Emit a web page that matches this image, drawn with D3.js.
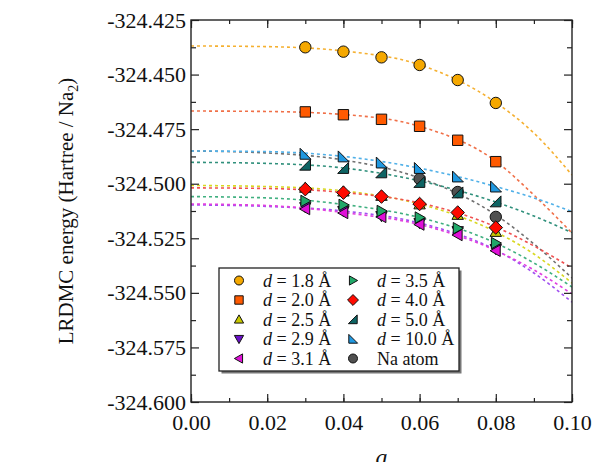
<!DOCTYPE html>
<html>
<head>
<meta charset="utf-8">
<script src="https://cdn.jsdelivr.net/npm/d3@7"></script>
<style>
  body { margin: 0; background: white; }
  svg text { font-family: "Liberation Serif", "Times New Roman", Times, serif !important; }
</style>
</head>
<body>
<svg id="chart"></svg>
<script>
// lattice spacings where LRDMC was run
const aValues = [0.03, 0.04, 0.05, 0.06, 0.07, 0.08];
const aNa = [0.06, 0.07, 0.08];
const fitA = [0, 0.02, 0.04, 0.06, 0.08, 0.09, 0.1];

const e18 = [-324.4375, -324.4395, -324.4421, -324.4456, -324.4525, -324.4630];
const fit18 = [-324.4369, -324.4372, -324.4392, -324.4455, -324.4628, -324.4768, -324.4960];
const e20 = [-324.4671, -324.4684, -324.4705, -324.4737, -324.4801, -324.4899];
const fit20 = [-324.4667, -324.4669, -324.4683, -324.4737, -324.4897, -324.5052, -324.5226];
const e25 = [-324.5019, -324.5036, -324.5056, -324.5095, -324.5143, -324.5221];
const fit25 = [-324.5008, -324.5013, -324.5033, -324.5093, -324.5221, -324.5322, -324.5455];
const e29 = [-324.5107, -324.5125, -324.5148, -324.5180, -324.5217, -324.5299];
const fit29 = [-324.5097, -324.5104, -324.5125, -324.5180, -324.5304, -324.5409, -324.5542];
const e31 = [-324.5116, -324.5134, -324.5152, -324.5187, -324.5235, -324.5307];
const fit31 = [-324.5093, -324.5100, -324.5132, -324.5187, -324.5306, -324.5395, -324.5505];
const e35 = [-324.5079, -324.5097, -324.5125, -324.5155, -324.5204, -324.5272];
const fit35 = [-324.5059, -324.5065, -324.5095, -324.5155, -324.5272, -324.5363, -324.5473];
const e40 = [-324.5025, -324.5041, -324.5059, -324.5093, -324.5132, -324.5201];
const fit40 = [-324.5019, -324.5022, -324.5040, -324.5088, -324.5198, -324.5285, -324.5386];
const e50 = [-324.4914, -324.4929, -324.4949, -324.4993, -324.5041, -324.5082];
const fit50 = [-324.4902, -324.4907, -324.4928, -324.4987, -324.5084, -324.5148, -324.5224];
const e100 = [-324.4864, -324.4876, -324.4904, -324.4929, -324.4968, -324.5014];
const fit100 = [-324.4850, -324.4853, -324.4875, -324.4929, -324.5013, -324.5065, -324.5128];
const eNa = [-324.4978, -324.5038, -324.5152];
const fitNa = [-324.4850, -324.4859, -324.4891, -324.4974, -324.5143, -324.5276, -324.5432];

const xTicks = [0, 0.02, 0.04, 0.06, 0.08, 0.1];
const yTicks = [-324.6, -324.575, -324.55, -324.525, -324.5, -324.475, -324.45, -324.425];

function initChart() {
    const width = 604, height = 462;
    const margin = { top: 20, right: 32, bottom: 60, left: 191 };

    const svg = d3.select("#chart").attr("width", width).attr("height", height);

    const x = d3.scaleLinear().domain([0, 0.1]).range([margin.left, width - margin.right]);
    const y = d3.scaleLinear().domain([-324.6, -324.425]).range([height - margin.bottom, margin.top]);

    // shape paths, centred on 0,0
    const shapes = {
        circle: s => d3.symbol(d3.symbolCircle, Math.PI * s * s)(),
        square: s => `M${-s},${-s}H${s}V${s}H${-s}Z`,
        up: s => `M0,${-s * 1.1}L${s * 1.1},${s * 0.85}L${-s * 1.1},${s * 0.85}Z`,
        down: s => `M0,${s * 1.1}L${s * 1.1},${-s * 0.85}L${-s * 1.1},${-s * 0.85}Z`,
        left: s => `M${-s * 1.1},0L${s * 0.85},${-s * 1.1}L${s * 0.85},${s * 1.1}Z`,
        right: s => `M${s * 1.1},0L${-s * 0.85},${-s * 1.1}L${-s * 0.85},${s * 1.1}Z`,
        diamond: s => `M0,${-s * 1.3}L${s * 1.3},0L0,${s * 1.3}L${-s * 1.3},0Z`,
        wedgeR: s => `M${s},${-s * 1.1}L${s},${s}L${-s * 1.1},${s}Z`,
        wedgeL: s => `M${-s},${-s * 1.1}L${-s},${s}L${s * 1.1},${s}Z`
    };

    const series = [
        { label: "d = 1.8 Å", a: aValues, e: e18, fit: fit18, shape: "circle", fill: "#f5a800", line: "#f5b030" },
        { label: "d = 2.0 Å", a: aValues, e: e20, fit: fit20, shape: "square", fill: "#ff5a00", line: "#f07048" },
        { label: "d = 2.5 Å", a: aValues, e: e25, fit: fit25, shape: "up", fill: "#c8c800", line: "#d8d820" },
        { label: "d = 2.9 Å", a: aValues, e: e29, fit: fit29, shape: "down", fill: "#6a10c8", line: "#a050f0" },
        { label: "d = 3.1 Å", a: aValues, e: e31, fit: fit31, shape: "left", fill: "#e010d8", line: "#e040e0" },
        { label: "d = 3.5 Å", a: aValues, e: e35, fit: fit35, shape: "right", fill: "#20a868", line: "#40b080" },
        { label: "d = 4.0 Å", a: aValues, e: e40, fit: fit40, shape: "diamond", fill: "#ff0a00", line: "#f05050" },
        { label: "d = 5.0 Å", a: aValues, e: e50, fit: fit50, shape: "wedgeR", fill: "#0e6464", line: "#30907c" },
        { label: "d = 10.0 Å", a: aValues, e: e100, fit: fit100, shape: "wedgeL", fill: "#2098e0", line: "#50b0e8" },
        { label: "Na atom", a: aNa, e: eNa, fit: fitNa, shape: "circle", fill: "#505050", line: "#707070" }
    ];

    const line = d3.line().x(d => x(d[0])).y(d => y(d[1])).curve(d3.curveMonotoneX);

    svg.append("defs").append("clipPath").attr("id", "plotClip")
        .append("rect").attr("x", x(0)).attr("y", y(-324.425))
        .attr("width", x(0.1) - x(0)).attr("height", y(-324.6) - y(-324.425));

    // Na fit first so the others sit on top of it
    const drawOrder = [series[9]].concat(series.slice(0, 9));
    const plot = svg.append("g").attr("clip-path", "url(#plotClip)");
    drawOrder.forEach(s => {
        plot.append("path")
            .datum(fitA.map((a, i) => [a, s.fit[i]]))
            .attr("fill", "none")
            .attr("stroke", s.line)
            .attr("stroke-width", 1.6)
            .attr("stroke-dasharray", "3,3")
            .attr("d", line);
    });

    drawOrder.forEach(s => {
        svg.append("g").selectAll("path")
            .data(s.a.map((a, i) => [a, s.e[i]]))
            .enter().append("path")
            .attr("transform", d => `translate(${x(d[0])},${y(d[1])})`)
            .attr("d", shapes[s.shape](s.shape === "circle" ? 5.7 : 5.2))
            .attr("fill", s.fill)
            .attr("stroke", "#111")
            .attr("stroke-width", 1);
    });

    // axes: ticks inward, major + minor
    const bottom = height - margin.bottom;
    const fmtY = v => d3.format(".3f")(v).replace("\u2212", "-");
    const gx = svg.append("g").attr("transform", `translate(0,${bottom})`)
        .call(d3.axisBottom(x).tickValues(xTicks).tickSize(-8).tickPadding(12).tickFormat(d3.format(".2f")));
    svg.append("g").attr("transform", `translate(0,${bottom})`)
        .call(d3.axisBottom(x).ticks(10).tickSize(-4).tickFormat(""));
    svg.append("g").attr("transform", `translate(0,${margin.top})`)
        .call(d3.axisTop(x).tickValues(xTicks).tickSize(-8).tickFormat(""));
    svg.append("g").attr("transform", `translate(0,${margin.top})`)
        .call(d3.axisTop(x).ticks(10).tickSize(-4).tickFormat(""));

    const gy = svg.append("g").attr("transform", `translate(${margin.left},0)`)
        .call(d3.axisLeft(y).tickValues(yTicks).tickSize(-8).tickPadding(5).tickFormat(fmtY));
    const minorY = d3.range(0, 7).map(i => -324.5875 + i * 0.025);
    svg.append("g").attr("transform", `translate(${margin.left},0)`)
        .call(d3.axisLeft(y).tickValues(minorY).tickSize(-5).tickFormat(""));
    svg.append("g").attr("transform", `translate(${width - margin.right},0)`)
        .call(d3.axisRight(y).tickValues(yTicks).tickSize(-8).tickFormat(""));
    svg.append("g").attr("transform", `translate(${width - margin.right},0)`)
        .call(d3.axisRight(y).tickValues(minorY).tickSize(-5).tickFormat(""));

    svg.selectAll(".domain").remove();
    svg.selectAll(".tick line").attr("stroke", "#222").attr("stroke-width", 1.2);
    gx.selectAll("text").attr("font-size", 22).attr("fill", "#111");
    gy.selectAll("text").attr("font-size", 22).attr("fill", "#111");

    svg.append("rect")
        .attr("x", x(0)).attr("y", y(-324.425))
        .attr("width", x(0.1) - x(0)).attr("height", y(-324.6) - y(-324.425))
        .attr("fill", "none").attr("stroke", "#222").attr("stroke-width", 1.4);

    // axis titles
    const yTitle = svg.append("text")
        .attr("transform", `translate(73,${(margin.top + bottom) / 2}) rotate(-90)`)
        .attr("text-anchor", "middle").attr("font-size", 21).attr("fill", "#111");
    yTitle.append("tspan").text("LRDMC energy (Hartree / Na");
    yTitle.append("tspan").attr("font-size", 14).attr("dy", 5).text("2");
    yTitle.append("tspan").attr("dy", -5).text(")");

    svg.append("text").attr("x", x(0.05)).attr("y", 465)
        .attr("text-anchor", "middle").attr("font-size", 24).attr("font-style", "italic")
        .attr("fill", "#111").text("a");

    // legend
    const lg = svg.append("g");
    const lx = 219, ly = 268, lw = 240, lh = 103;
    lg.append("rect").attr("x", lx + 2.5).attr("y", ly + 2.5).attr("width", lw).attr("height", lh)
        .attr("fill", "#777");
    lg.append("rect").attr("x", lx).attr("y", ly).attr("width", lw).attr("height", lh)
        .attr("fill", "white").attr("stroke", "#222").attr("stroke-width", 1.3);

    series.forEach((s, i) => {
        const col = Math.floor(i / 5), row = i % 5;
        const mx = lx + 20 + col * 114, my = ly + 12.5 + row * 19.5;
        lg.append("path")
            .attr("transform", `translate(${mx},${my})`)
            .attr("d", shapes[s.shape](s.shape === "circle" ? 4.5 : 4.2))
            .attr("fill", s.fill).attr("stroke", "#111").attr("stroke-width", 1);
        const t = lg.append("text").attr("x", mx + 24).attr("y", my + 6)
            .attr("font-size", 18).attr("fill", "#111");
        if (s.label.startsWith("d")) {
            t.append("tspan").attr("font-style", "italic").text("d");
            t.append("tspan").text(s.label.slice(1));
        } else {
            t.text(s.label);
        }
    });
}

initChart();
</script>
</body>
</html>
